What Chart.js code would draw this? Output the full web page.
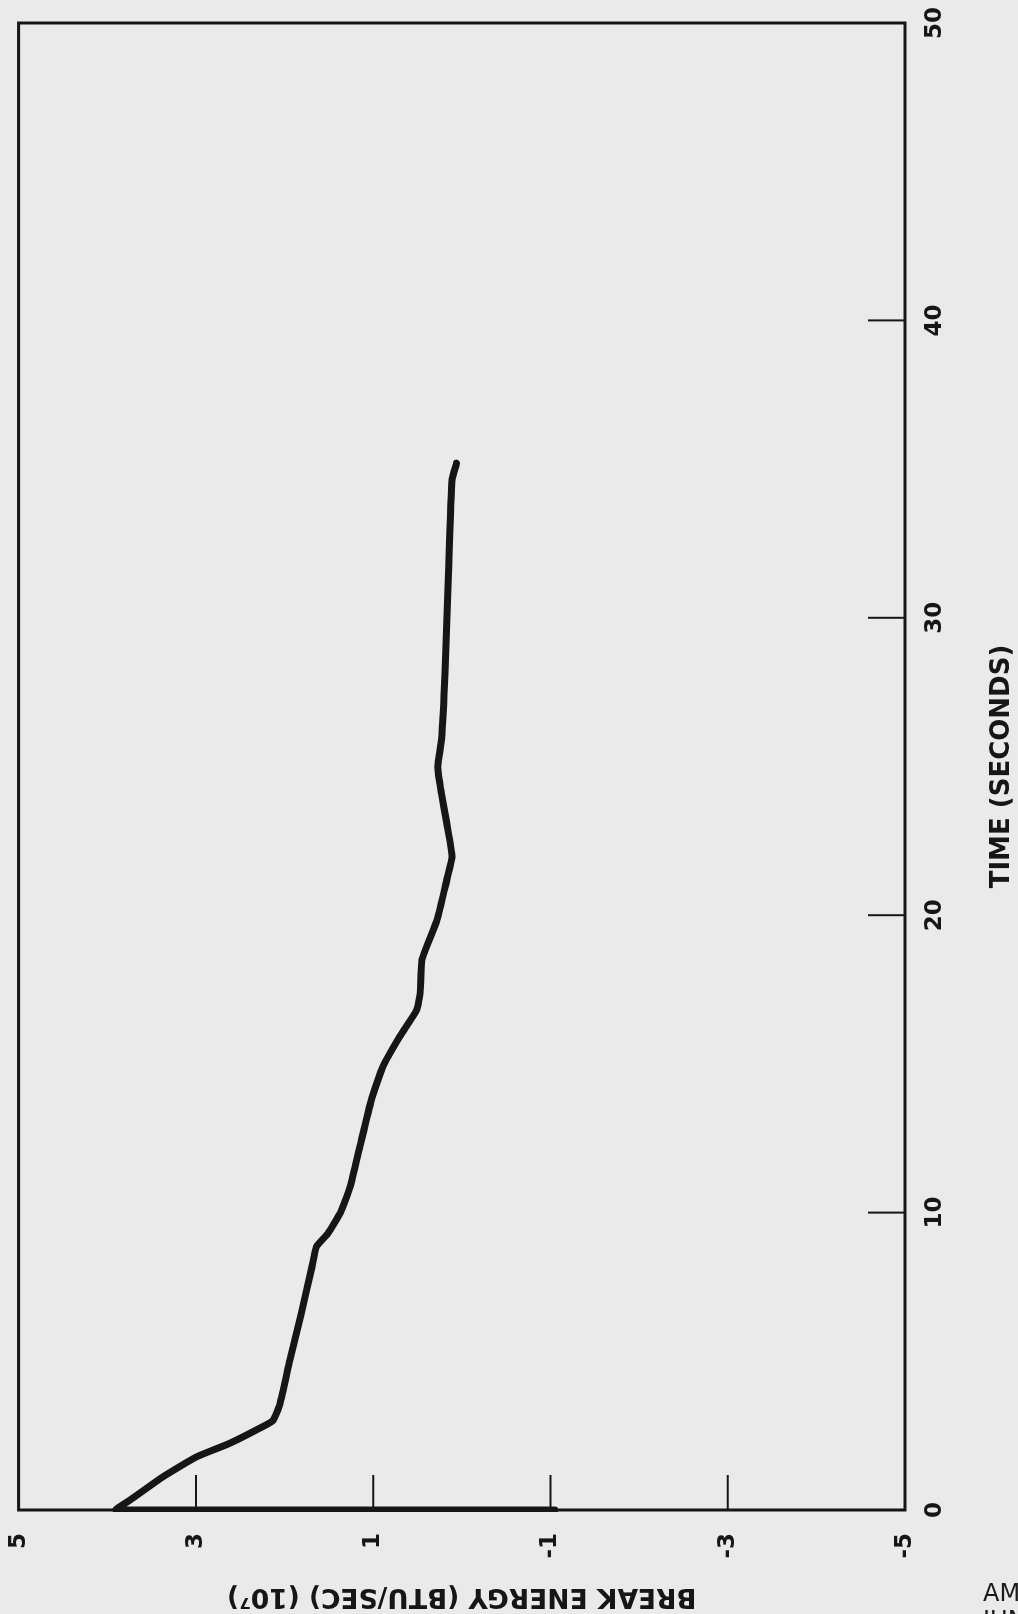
<!DOCTYPE html>
<html><head><meta charset="utf-8">
<script src="https://cdn.jsdelivr.net/npm/chart.js@4.4.1/dist/chart.umd.min.js"></script>
<style>
html,body{margin:0;padding:0;background:#eaeaea;overflow:hidden;width:1018px;height:1614px;}
#wrap{position:absolute;left:0;top:0;width:1614px;height:1018px;transform-origin:0 0;transform:translate(0px,1614px) rotate(-90deg);}
#note{position:absolute;left:983px;top:1580px;font:24px "DejaVu Sans";color:#1a1a1a;white-space:nowrap;line-height:27px;}
</style></head><body>
<div id="wrap"><canvas id="c" width="1614" height="1018"></canvas></div>
<div id="note">AMENDMENT<br>JUNE</div>
<script>
// Time (seconds)
const timeSec = [0, 0, 0.34, 1.12, 1.79, 2.24, 2.75, 3.01, 3.59, 5.04, 6.62, 8.18, 8.85, 9.30, 9.99, 10.87, 12.22, 13.79, 14.91, 15.92, 16.81, 17.37, 18.49, 19.84, 21.18, 21.97, 23.10, 24.11, 24.99, 25.89, 28.14, 31.51, 34.63, 35.2];
// Break energy (BTU/SEC) (10^7)
const breakEnergy = [-1.05, 3.9, 3.74, 3.37, 2.99, 2.62, 2.28, 2.13, 2.05, 1.94, 1.81, 1.69, 1.64, 1.51, 1.37, 1.26, 1.15, 1.02, 0.89, 0.70, 0.51, 0.47, 0.45, 0.28, 0.17, 0.11, 0.17, 0.23, 0.27, 0.23, 0.19, 0.15, 0.11, 0.06];
const timeTicks = [0, 10, 20, 30, 40, 50];
const energyTicks = [-5, -3, -1, 1, 3, 5];
const xTitle = 'TIME (SECONDS)';
const yTitle = 'BREAK ENERGY (BTU/SEC) (10\u2077)';

const ink = '#161616';

const frameTicks = {
  id: 'frameTicks',
  afterDatasetsDraw(chart) {
    const {ctx, chartArea: a, scales: {x, y}} = chart;
    ctx.save();
    ctx.strokeStyle = ink;
    ctx.lineWidth = 2;
    timeTicks.forEach(v => {
      if (v === x.min || v === x.max) return;
      const px = x.getPixelForValue(v);
      ctx.beginPath(); ctx.moveTo(px, a.bottom); ctx.lineTo(px, a.bottom - 37); ctx.stroke();
    });
    energyTicks.forEach(v => {
      if (v === y.min || v === y.max) return;
      const py = y.getPixelForValue(v);
      ctx.beginPath(); ctx.moveTo(a.left, py); ctx.lineTo(a.left + 35, py); ctx.stroke();
    });
    ctx.lineWidth = 3;
    ctx.strokeRect(a.left, a.top, a.right - a.left, a.bottom - a.top);
    ctx.restore();
  }
};

new Chart(document.getElementById('c'), {
  type: 'line',
  data: {
    datasets: [{
      data: timeSec.map((t, i) => ({x: t, y: breakEnergy[i]})),
      borderColor: ink,
      borderWidth: 7,
      pointRadius: 0,
      tension: 0.15,
      borderCapStyle: 'round',
      borderJoinStyle: 'round',
      clip: 2
    }]
  },
  options: {
    responsive: false,
    devicePixelRatio: 1,
    animation: false,
    layout: {padding: {left: 0, top: 18.6, right: 23, bottom: 0}},
    plugins: {legend: {display: false}, tooltip: {enabled: false}},
    scales: {
      x: {
        type: 'linear', min: 0, max: 50,
        afterBuildTicks: s => { s.ticks = timeTicks.map(v => ({value: v})); },
        afterFit: s => { s.height = 113; s.paddingLeft = 0; s.paddingRight = 0; },
        grid: {display: false, drawTicks: false},
        border: {display: false},
        ticks: {color: ink, font: {family: 'DejaVu Sans', size: 23, weight: 'bold'}, padding: 16, maxRotation: 0, autoSkip: false},
        title: {display: true, text: xTitle, color: ink, font: {family: 'DejaVu Sans', size: 26, weight: 'bold', lineHeight: 1.2}, padding: {top: 0, bottom: 0}}
      },
      y: {
        type: 'linear', min: -5, max: 5,
        afterBuildTicks: s => { s.ticks = energyTicks.map(v => ({value: v})); },
        afterFit: s => { s.width = 104; s.paddingTop = 0; s.paddingBottom = 0; },
        grid: {display: false, drawTicks: false},
        border: {display: false},
        ticks: {color: ink, font: {family: 'DejaVu Sans', size: 23, weight: 'bold'}, padding: 23, autoSkip: false},
        title: {display: true, text: yTitle, color: ink, font: {family: 'DejaVu Sans', size: 26.5, weight: 'bold', lineHeight: 1.2}, padding: {top: 2, bottom: 0}}
      }
    }
  },
  plugins: [frameTicks]
});
</script>
</body></html>
